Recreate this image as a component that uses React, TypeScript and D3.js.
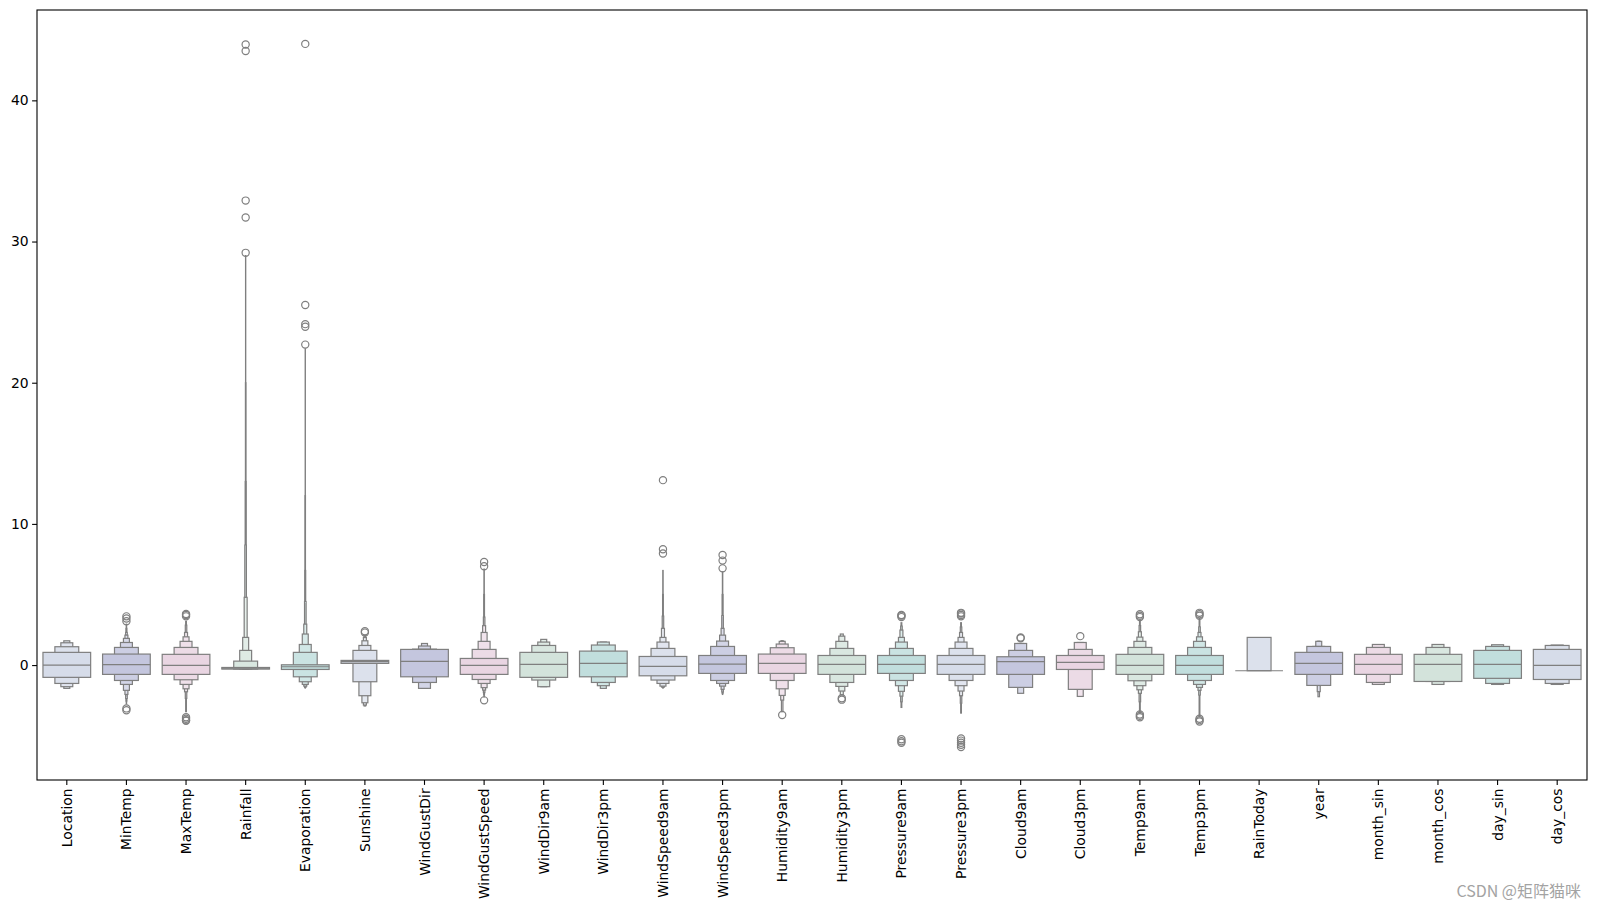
import React, { useEffect, useRef } from 'react';
import * as d3 from 'd3';

// letter-value (boxen) summaries, standardized units
const categories = [
  'Location', 'MinTemp', 'MaxTemp', 'Rainfall', 'Evaporation', 'Sunshine',
  'WindGustDir', 'WindGustSpeed', 'WindDir9am', 'WindDir3pm', 'WindSpeed9am',
  'WindSpeed3pm', 'Humidity9am', 'Humidity3pm', 'Pressure9am', 'Pressure3pm',
  'Cloud9am', 'Cloud3pm', 'Temp9am', 'Temp3pm', 'RainToday', 'year',
  'month_sin', 'month_cos', 'day_sin', 'day_cos',
];

const medians = [
  0.0, 0.03, -0.02, -0.26, -0.12, 0.24, 0.26, -0.02, 0.05, 0.12, -0.09, 0.07, 0.12,
  0.05, 0.05, 0.05, 0.24, 0.19, -0.02, -0.02, -0.4, 0.12, 0.05, 0.05, 0.05, -0.02,
];

// upper letter values, innermost box first
const upperValues: number[][] = [
  [0.9, 1.3, 1.58, 1.72],
  [0.78, 1.25, 1.6, 1.89, 2.12, 2.31, 2.6, 2.9],
  [0.76, 1.25, 1.68, 2.0, 2.31, 2.83, 3.1],
  [-0.17, 0.28, 1.04, 1.96, 4.8, 8.5, 13, 20, 29.0],
  [0.02, 0.9, 1.46, 2.2, 2.9, 4.5, 6.7, 12, 22.4],
  [0.33, 1.04, 1.39, 1.72, 1.95, 2.1],
  [1.11, 1.13, 1.35, 1.53],
  [0.47, 1.11, 1.68, 2.31, 2.79, 3.4, 5.0, 6.8],
  [0.9, 1.39, 1.63, 1.82],
  [0.99, 1.42, 1.63, 1.63],
  [0.61, 1.18, 1.63, 1.96, 2.6, 3.47, 5.0, 6.7],
  [0.68, 1.32, 1.7, 2.12, 2.6, 3.5, 5.0, 6.6],
  [0.78, 1.23, 1.49, 1.68, 1.7, 1.72],
  [0.68, 1.18, 1.68, 2.05, 2.2],
  [0.68, 1.18, 1.63, 1.96, 2.48, 2.76, 3.0],
  [0.68, 1.18, 1.63, 1.96, 2.31, 2.7, 3.0],
  [0.59, 1.04, 1.53, 1.53],
  [0.68, 1.11, 1.6, 1.6],
  [0.76, 1.25, 1.68, 1.98, 2.36, 2.8, 3.2],
  [0.68, 1.25, 1.68, 2.0, 2.31, 2.7, 3.3],
  [-0.4, 1.96],
  [0.9, 1.32, 1.32, 1.68, 1.68, 1.68],
  [0.76, 1.25, 1.46],
  [0.76, 1.25, 1.46],
  [1.04, 1.32, 1.44],
  [1.11, 1.39, 1.42],
];

// lower letter values, innermost box first
const lowerValues: number[][] = [
  [-0.87, -1.3, -1.53, -1.65],
  [-0.66, -1.09, -1.37, -1.79, -2.08, -2.36, -2.55, -2.75],
  [-0.66, -1.04, -1.37, -1.68, -1.89, -2.36, -3.3],
  [-0.28, -0.28, -0.28, -0.28, -0.28, -0.28, -0.28, -0.28, -0.28],
  [-0.31, -0.83, -1.18, -1.37, -1.49, -1.55, -1.58, -1.6, -1.62],
  [0.12, -1.18, -2.17, -2.67, -2.83, -2.9],
  [-0.83, -1.23, -1.65, -1.65],
  [-0.66, -1.02, -1.3, -1.6, -1.77, -1.95, -2.1, -2.25],
  [-0.87, -1.06, -1.53, -1.53],
  [-0.83, -1.23, -1.46, -1.65],
  [-0.76, -1.06, -1.3, -1.49, -1.55, -1.58, -1.6, -1.62],
  [-0.59, -1.09, -1.3, -1.49, -1.72, -1.9, -2.0, -2.08],
  [-0.59, -1.09, -1.68, -2.15, -2.48, -3.3],
  [-0.66, -1.23, -1.51, -1.84, -2.12],
  [-0.59, -1.09, -1.46, -1.86, -2.2, -2.6, -3.0],
  [-0.66, -1.09, -1.46, -1.84, -2.17, -2.7, -3.4],
  [-0.66, -1.58, -1.58, -2.0],
  [-0.31, -1.72, -1.72, -2.22],
  [-0.66, -1.11, -1.46, -1.75, -2.0, -2.6, -3.3],
  [-0.66, -1.09, -1.37, -1.58, -1.79, -2.12, -3.6],
  [-0.4, -0.4],
  [-0.66, -1.44, -1.44, -1.44, -1.88, -2.24],
  [-0.66, -1.23, -1.37],
  [-1.16, -1.16, -1.37],
  [-0.94, -1.3, -1.37],
  [-1.02, -1.3, -1.37],
];

const outliers: number[][] = [
  [],
  [3.45, 3.3, 3.1, -3.07, -3.2],
  [3.45, 3.55, 3.62, -3.7, -3.8, -3.9, -3.95],
  [43.96, 43.5, 32.9, 31.7, 29.2],
  [44.0, 25.5, 24.15, 23.96, 22.7],
  [2.3, 2.4],
  [],
  [7.3, 7.0, -2.5],
  [],
  [],
  [13.1, 8.2, 7.9],
  [7.8, 7.4, 6.85],
  [-3.54],
  [-2.35, -2.45],
  [3.4, 3.5, 3.55, -5.25, -5.4, -5.5],
  [3.45, 3.55, 3.65, 3.7, -5.2, -5.35, -5.5, -5.65, -5.8],
  [1.9, 1.95],
  [2.05],
  [3.4, 3.5, 3.6, -3.5, -3.6, -3.7],
  [3.5, 3.6, 3.7, -3.8, -3.9, -4.0],
  [],
  [],
  [],
  [],
  [],
  [],
];

const yTicks = [0, 10, 20, 30, 40];
const palette = ['#d6dce9', '#c4c6de', '#e9d5e2', '#d3e3db', '#c1dedd'];

const WIDTH = 1597;
const HEIGHT = 910;
const plot = { left: 37, right: 1587, top: 10, bottom: 780 };
const FONT = '"DejaVu Sans", sans-serif';
const LINE = '#7f7f7f';

export default function App() {
  const svgRef = useRef<SVGSVGElement>(null);

  useEffect(() => {
    if (!svgRef.current) return;
    const svg = d3.select(svgRef.current);
    svg.selectAll('*').remove();

    const x = d3.scaleBand<string>().domain(categories).range([plot.left, plot.right]).padding(0);
    const y = d3.scaleLinear().domain([-8.14, 46.4]).range([plot.bottom, plot.top]);
    const boxW = x.bandwidth() * 0.8;

    const g = svg.append('g');

    categories.forEach((cat, ci) => {
      const cx = x(cat)! + x.bandwidth() / 2;
      const base = palette[ci % palette.length];
      const ups = upperValues[ci];
      const lows = lowerValues[ci];
      const k = ups.length;

      // outermost first so inner boxes sit on top
      for (let i = k - 1; i >= 0; i--) {
        const w = boxW * Math.pow(0.5, i);
        const fill = d3.interpolateRgb(base, '#ffffff')(Math.min(0.5, 1 - Math.pow(0.86, i)));
        g.append('rect')
          .attr('x', cx - w / 2)
          .attr('y', y(ups[i]))
          .attr('width', w)
          .attr('height', Math.max(0, y(lows[i]) - y(ups[i])))
          .attr('fill', fill)
          .attr('stroke', LINE)
          .attr('stroke-width', 1.2);
      }

      g.append('line')
        .attr('x1', cx - boxW / 2)
        .attr('x2', cx + boxW / 2)
        .attr('y1', y(medians[ci]))
        .attr('y2', y(medians[ci]))
        .attr('stroke', LINE)
        .attr('stroke-width', 1.2);

      g.selectAll(null)
        .data(outliers[ci])
        .enter()
        .append('circle')
        .attr('cx', cx)
        .attr('cy', (d) => y(d))
        .attr('r', 3.6)
        .attr('fill', 'none')
        .attr('stroke', LINE)
        .attr('stroke-width', 1.2);
    });

    // frame
    svg.append('rect')
      .attr('x', plot.left)
      .attr('y', plot.top)
      .attr('width', plot.right - plot.left)
      .attr('height', plot.bottom - plot.top)
      .attr('fill', 'none')
      .attr('stroke', '#000')
      .attr('stroke-width', 1.1);

    const yAxis = svg.append('g')
      .attr('transform', `translate(${plot.left},0)`)
      .call(d3.axisLeft(y).tickValues(yTicks).tickSize(4.9).tickPadding(3.5).tickFormat(d3.format('d')));
    yAxis.select('.domain').remove();
    yAxis.selectAll('line').attr('stroke', '#000').attr('stroke-width', 1.1);
    yAxis.selectAll('text').attr('font-family', FONT).attr('font-size', 13.9).attr('fill', '#000');

    const xAxis = svg.append('g')
      .attr('transform', `translate(0,${plot.bottom})`)
      .call(d3.axisBottom(x).tickSize(4.9).tickPadding(3.5));
    xAxis.select('.domain').remove();
    xAxis.selectAll('line').attr('stroke', '#000').attr('stroke-width', 1.1);
    xAxis.selectAll<SVGTextElement, string>('text')
      .attr('font-family', FONT)
      .attr('font-size', 13.9)
      .attr('fill', '#000')
      .attr('y', 0)
      .attr('dy', null)
      .attr('transform', 'translate(0,8.4) rotate(-90)')
      .attr('text-anchor', 'end')
      .attr('dominant-baseline', 'central');

    svg.append('text')
      .attr('x', 1581)
      .attr('y', 897)
      .attr('text-anchor', 'end')
      .attr('font-family', '"Noto Sans CJK SC", "Noto Sans", sans-serif')
      .attr('font-size', 16)
      .attr('fill', '#a3a3a3')
      .text('CSDN @矩阵猫咪');
  }, []);

  return (
    <svg
      ref={svgRef}
      width={WIDTH}
      height={HEIGHT}
      style={{ position: 'absolute', left: 0, top: 0, background: '#fff' }}
    />
  );
}
